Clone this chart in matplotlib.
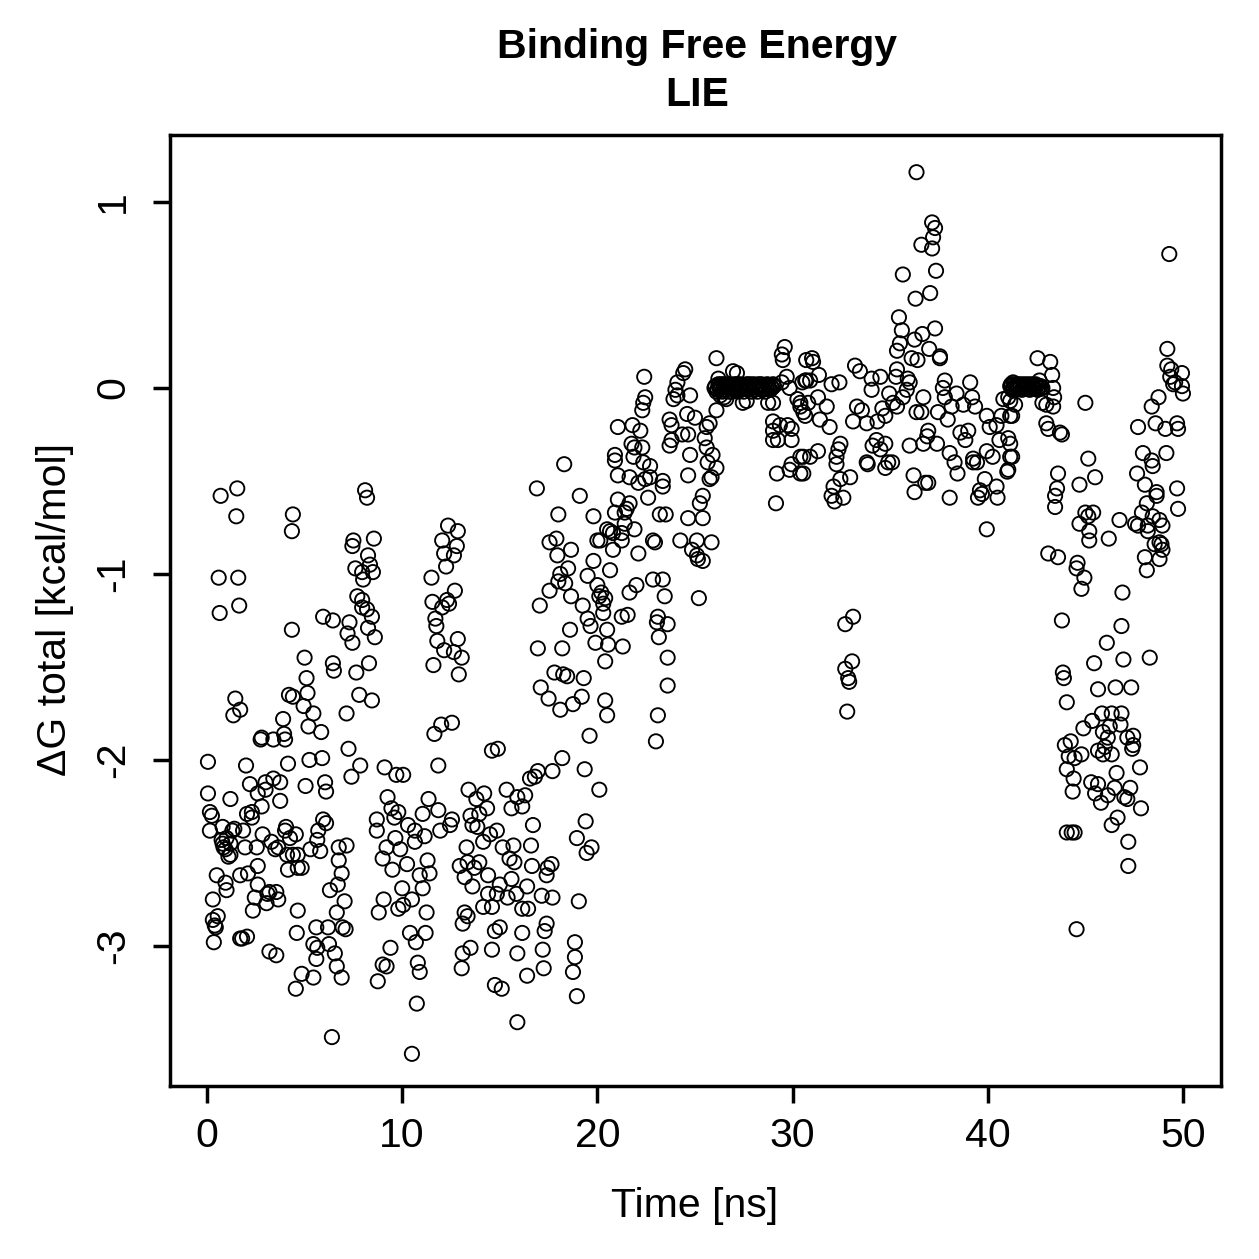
"""Binding free energy (LIE) over time, base-R style scatter."""

import matplotlib
matplotlib.use("Agg")
import matplotlib.pyplot as plt
import numpy as np

# ---------------------------------------------------------------------------
# Data: (time [ns], dG total [kcal/mol]), per segment
# ---------------------------------------------------------------------------

seg_00_05 = [
    (0.05, -2.01), (0.05, -2.18), (0.15, -2.28), (0.15, -2.38), (0.25, -2.30),
    (0.3, -2.75), (0.3, -2.86), (0.4, -2.89), (0.35, -2.98), (0.5, -2.62),
    (0.55, -2.84), (0.45, -2.90), (0.7, -0.58), (0.6, -1.02), (0.65, -1.21),
    (0.75, -2.43), (0.8, -2.36), (0.8, -2.45), (0.85, -2.47), (0.95, -2.48),
    (0.95, -2.66), (1.0, -2.70), (1.0, -2.42), (1.1, -2.52), (1.2, -2.21),
    (1.2, -2.45), (1.2, -2.51), (1.3, -2.38), (1.4, -2.37), (1.35, -1.76),
    (1.45, -1.67), (1.7, -1.73), (1.55, -0.54), (1.5, -0.69), (1.6, -1.02),
    (1.65, -1.17), (1.7, -2.62), (1.7, -2.96), (1.8, -2.96), (2.05, -2.95),
    (2.0, -2.03), (1.85, -2.38), (1.95, -2.47), (2.05, -2.29), (2.2, -2.13),
    (2.3, -2.28), (2.3, -2.31), (2.35, -2.81), (2.45, -2.74), (2.1, -2.61),
    (2.55, -2.47), (2.6, -2.18), (2.6, -2.57), (2.6, -2.67), (2.8, -2.25),
    (2.75, -1.89), (2.8, -1.88), (2.85, -2.40), (3.0, -2.12), (3.0, -2.16),
    (3.05, -2.77), (3.1, -2.72), (3.2, -2.71), (3.2, -3.03), (3.3, -2.44),
    (3.4, -1.89), (3.4, -2.10), (3.5, -2.48), (3.55, -3.05), (3.55, -2.71),
    (3.65, -2.47), (3.65, -2.75), (3.75, -2.12), (3.75, -2.22), (3.9, -1.78),
    (3.95, -1.86), (4.0, -1.89), (4.0, -2.38), (4.05, -2.36), (4.1, -2.51),
    (4.15, -2.02), (4.15, -2.59), (4.2, -1.65), (4.25, -2.42), (4.35, -0.77),
    (4.4, -0.68), (4.35, -1.30), (4.4, -1.66), (4.4, -2.51), (4.55, -2.40),
    (4.55, -3.23), (4.6, -2.93), (4.65, -2.81), (4.65, -2.51), (4.65, -2.58),
    (4.85, -3.15), (4.85, -2.58), (4.95, -1.71), (5.0, -1.45),
]

seg_05_10 = [
    (5.05, -2.14), (5.1, -1.56), (5.15, -1.64), (5.2, -1.82), (5.25, -2.0),
    (5.3, -2.48), (5.45, -1.75), (5.45, -2.99), (5.45, -3.17), (5.6, -2.90),
    (5.6, -3.07), (5.65, -3.01), (5.65, -2.43), (5.7, -2.38), (5.8, -2.49),
    (5.85, -1.85), (5.9, -1.99), (5.95, -1.23), (5.95, -2.32), (6.05, -2.12),
    (6.1, -2.17), (6.1, -2.34), (6.2, -2.90), (6.25, -2.99), (6.3, -2.70),
    (6.4, -3.49), (6.45, -1.25), (6.45, -1.48), (6.5, -1.52), (6.55, -3.04),
    (6.65, -2.82), (6.65, -3.11), (6.7, -2.67), (6.75, -2.47), (6.75, -2.54),
    (6.9, -2.61), (6.9, -3.17), (6.95, -2.90), (7.05, -2.76), (7.1, -2.91),
    (7.15, -2.46), (7.15, -1.75), (7.2, -1.32), (7.25, -1.94), (7.3, -1.26),
    (7.4, -2.09), (7.45, -1.37), (7.45, -0.85), (7.5, -0.82), (7.6, -0.97),
    (7.65, -1.53), (7.7, -1.12), (7.8, -1.65), (7.85, -2.03), (7.95, -0.99),
    (7.95, -1.14), (7.95, -1.18), (8.0, -1.03), (8.1, -0.55), (8.2, -0.59),
    (8.2, -1.19), (8.25, -0.90), (8.25, -1.29), (8.3, -1.48), (8.35, -0.95),
    (8.45, -1.23), (8.45, -1.68), (8.5, -0.99), (8.55, -0.81), (8.6, -1.34),
    (8.7, -2.32), (8.7, -2.38), (8.75, -3.19), (8.8, -2.82), (9.0, -2.53),
    (9.0, -3.10), (9.05, -2.75), (9.1, -2.04), (9.2, -2.47), (9.2, -3.11),
    (9.25, -2.20), (9.4, -3.01), (9.45, -2.26), (9.5, -2.59), (9.6, -2.31),
    (9.65, -2.42), (9.7, -2.08), (9.8, -2.28), (9.8, -2.80), (9.9, -2.48),
]

seg_10_15 = [
    (10.0, -2.69), (10.05, -2.08), (10.05, -2.78), (10.25, -2.56), (10.3, -2.35),
    (10.4, -2.93), (10.5, -2.75), (10.5, -3.58), (10.65, -2.38), (10.65, -2.44),
    (10.7, -2.98), (10.75, -3.31), (10.8, -3.09), (10.9, -2.62), (10.9, -3.14),
    (11.05, -2.29), (11.05, -2.69), (11.15, -2.41), (11.2, -2.93), (11.25, -2.82),
    (11.3, -2.54), (11.35, -2.21), (11.4, -2.61), (11.5, -1.02), (11.55, -1.15),
    (11.6, -1.49), (11.65, -1.86), (11.7, -1.24), (11.75, -1.28), (11.8, -1.36),
    (11.85, -2.03), (11.85, -2.27), (11.95, -2.38), (12.0, -1.81), (12.05, -0.82),
    (12.05, -1.18), (12.15, -0.89), (12.15, -1.41), (12.25, -0.96), (12.3, -1.14),
    (12.35, -0.74), (12.4, -1.16), (12.45, -2.35), (12.55, -1.80), (12.55, -2.32),
    (12.65, -0.90), (12.65, -1.42), (12.7, -1.09), (12.8, -0.85), (12.85, -0.77),
    (12.85, -1.35), (12.9, -1.54), (12.95, -2.57), (13.05, -1.45), (13.05, -3.12),
    (13.1, -2.88), (13.1, -3.04), (13.2, -2.63), (13.2, -2.82), (13.3, -2.47),
    (13.35, -2.55), (13.35, -2.84), (13.4, -2.16), (13.5, -2.30), (13.5, -3.01),
    (13.6, -2.35), (13.6, -2.68), (13.7, -2.58), (13.8, -2.21), (13.85, -2.36),
    (13.95, -2.29), (13.95, -2.55), (14.15, -2.44), (14.15, -2.79), (14.2, -2.18),
    (14.35, -2.26), (14.4, -2.62), (14.4, -2.72), (14.5, -2.40), (14.6, -1.95),
    (14.6, -2.79), (14.6, -3.02), (14.75, -2.92), (14.75, -3.21), (14.85, -2.38),
    (14.85, -2.72), (14.9, -1.94),
]

seg_15_20 = [
    (15.0, -2.67), (15.0, -2.90), (15.1, -3.23), (15.15, -2.47), (15.35, -2.16),
    (15.4, -2.74), (15.5, -2.53), (15.6, -2.26), (15.6, -2.64), (15.7, -2.46),
    (15.75, -2.55), (15.85, -2.72), (15.9, -2.20), (15.9, -3.04), (15.9, -3.41),
    (16.15, -2.25), (16.15, -2.80), (16.15, -2.93), (16.3, -2.19), (16.4, -2.68),
    (16.4, -3.16), (16.45, -2.80), (16.55, -2.10), (16.6, -2.46), (16.65, -2.57),
    (16.7, -2.35), (16.8, -2.09), (16.9, -0.54), (16.95, -1.40), (16.95, -2.06),
    (17.05, -1.17), (17.1, -1.61), (17.15, -2.73), (17.2, -3.02), (17.25, -3.12),
    (17.3, -2.92), (17.4, -2.62), (17.4, -2.88), (17.45, -2.58), (17.5, -1.67),
    (17.55, -0.83), (17.55, -1.09), (17.65, -2.56), (17.7, -2.06), (17.7, -2.74),
    (17.8, -1.53), (17.9, -0.81), (17.95, -0.90), (18.0, -0.68), (18.0, -1.04),
    (18.1, -1.0), (18.1, -1.73), (18.2, -1.40), (18.2, -1.99), (18.25, -1.54),
    (18.3, -0.41), (18.35, -1.05), (18.45, -1.55), (18.5, -0.97), (18.6, -1.30),
    (18.65, -0.87), (18.65, -1.12), (18.75, -1.70), (18.75, -3.14), (18.85, -2.98),
    (18.85, -3.06), (18.95, -2.42), (18.95, -3.27), (19.05, -2.76), (19.1, -0.58),
    (19.2, -1.66), (19.25, -1.17), (19.3, -1.56), (19.35, -2.05), (19.4, -2.33),
    (19.45, -2.50), (19.5, -1.01), (19.5, -1.24), (19.6, -1.87), (19.65, -1.28),
    (19.7, -2.47), (19.8, -0.69), (19.8, -0.93), (19.9, -1.37), (20.0, -0.82),
    (20.0, -1.06), (20.1, -1.12), (20.1, -2.16),
]

seg_20_25 = [
    (20.15, -0.82), (20.2, -1.10), (20.3, -1.16), (20.3, -1.21), (20.4, -1.13),
    (20.4, -1.47), (20.4, -1.68), (20.5, -0.76), (20.5, -1.30), (20.5, -1.76),
    (20.55, -1.38), (20.65, -0.77), (20.65, -0.98), (20.8, -0.78), (20.8, -0.87),
    (20.9, -0.36), (20.9, -0.39), (20.9, -0.67), (21.05, -0.21), (21.05, -0.47),
    (21.05, -0.60), (21.25, -0.78), (21.25, -0.82), (21.25, -1.23), (21.3, -1.39),
    (21.4, -0.67), (21.4, -0.73), (21.5, -0.65), (21.55, -1.22), (21.65, -0.48),
    (21.65, -0.62), (21.65, -1.10), (21.75, -0.30), (21.8, -0.20), (21.85, -0.37),
    (21.9, -0.32), (21.9, -0.76), (22.0, -1.06), (22.1, -0.51), (22.1, -0.89),
    (22.2, -0.23), (22.3, -0.12), (22.3, -0.32), (22.35, -0.08), (22.35, -0.40),
    (22.4, 0.06), (22.45, -0.05), (22.45, -0.49), (22.6, -0.59), (22.7, -0.42),
    (22.7, -0.48), (22.85, -0.82), (22.85, -1.03), (22.95, -0.83), (23.0, -1.90),
    (23.05, -1.26), (23.1, -1.23), (23.1, -1.76), (23.15, -1.34), (23.2, -0.68),
    (23.35, -0.50), (23.35, -0.53), (23.35, -1.03), (23.45, -1.12), (23.5, -0.68),
    (23.6, -1.27), (23.6, -1.45), (23.6, -1.60), (23.7, -0.17), (23.7, -0.31),
    (23.8, -0.20), (23.8, -0.28), (23.9, -0.06), (24.0, -0.01), (24.1, 0.03),
    (24.1, -0.04), (24.25, -0.82), (24.35, -0.25), (24.4, 0.08), (24.5, 0.10),
    (24.6, -0.14), (24.65, -0.25), (24.65, -0.47), (24.65, -0.70), (24.75, -0.04),
    (24.75, -0.36), (24.85, -0.87), (25.0, -0.16),
]

seg_25_30 = [
    (25.1, -0.82), (25.1, -0.90), (25.15, -0.92), (25.2, -1.13), (25.25, -0.62),
    (25.4, -0.58), (25.4, -0.70), (25.4, -0.93), (25.5, -0.27), (25.6, -0.21),
    (25.6, -0.32), (25.65, -0.40), (25.75, -0.19), (25.75, -0.49), (25.85, -0.48),
    (25.85, -0.83), (25.9, -0.36), (26.1, 0.16), (26.1, -0.12), (26.1, -0.43),
    (26.2, 0.05), (26.3, -0.04), (26.5, -0.05), (26.6, -0.06), (26.95, 0.09),
    (27.15, 0.08), (27.45, -0.08), (27.65, -0.07), (28.75, -0.08), (29.0, -0.08),
    (29.0, -0.18), (29.0, -0.23), (29.0, -0.28), (29.15, -0.62), (29.2, -0.46),
    (29.25, -0.28), (29.35, -0.20), (29.45, 0.18), (29.45, 0.03), (29.5, 0.15),
    (29.6, 0.22), (29.7, 0.06), (29.75, -0.20), (29.85, 0.0), (29.85, -0.44),
    (29.95, -0.22), (29.95, -0.28), (29.95, -0.41),
]

# near-constant stretch that prints as a solid bar at dG ~ 0
plateau_26_29 = [
    (26.0, 0.0), (26.05, 0.01), (26.1, -0.02), (26.15, -0.01), (26.2, 0.02),
    (26.25, 0.0), (26.3, 0.01), (26.35, 0.02), (26.4, -0.02), (26.45, -0.01),
    (26.5, 0.02), (26.55, 0.01), (26.6, -0.01), (26.65, 0.0), (26.7, 0.02),
    (26.75, -0.02), (26.8, 0.0), (26.85, 0.01), (26.9, -0.02), (26.95, 0.0),
    (27.0, 0.02), (27.05, -0.01), (27.1, 0.01), (27.15, 0.02), (27.2, -0.02),
    (27.25, 0.0), (27.3, 0.02), (27.35, -0.01), (27.4, 0.0), (27.45, 0.01),
    (27.5, -0.02), (27.55, 0.0), (27.6, 0.01), (27.65, 0.02), (27.7, 0.0),
    (27.75, -0.01), (27.8, 0.02), (27.85, 0.0), (27.9, -0.02), (27.95, 0.01),
    (28.0, 0.02), (28.05, -0.01), (28.1, 0.01), (28.15, 0.0), (28.2, -0.02),
    (28.25, 0.02), (28.3, 0.01), (28.35, 0.0), (28.4, 0.02), (28.45, -0.01),
    (28.5, 0.0), (28.55, 0.01), (28.6, -0.02), (28.65, 0.0), (28.7, 0.02),
    (28.75, 0.01), (28.8, 0.0), (28.85, -0.01), (28.9, 0.01), (28.95, 0.0),
    (29.0, 0.02), (29.05, 0.01),
]

seg_30_35 = [
    (30.25, -0.06), (30.4, -0.10), (30.4, -0.37), (30.4, -0.46), (30.4, -0.08),
    (30.5, 0.03), (30.55, -0.13), (30.55, -0.37), (30.55, -0.46), (30.65, 0.04),
    (30.65, -0.15), (30.7, 0.15), (30.7, 0.04), (30.8, -0.08), (30.9, 0.04),
    (30.9, -0.37), (31.0, 0.16), (31.05, 0.14), (31.3, -0.05), (31.3, -0.34),
    (31.35, 0.07), (31.4, -0.17), (31.75, -0.10), (31.9, -0.21), (32.0, 0.02),
    (32.0, -0.58), (32.1, -0.53), (32.15, -0.61), (32.25, -0.37), (32.25, -0.41),
    (32.35, -0.33), (32.4, 0.03), (32.45, -0.30), (32.45, -0.49), (32.6, -0.59),
    (32.7, -1.27), (32.7, -1.51), (32.8, -1.74), (32.85, -1.56), (32.9, -1.58),
    (32.95, -0.48), (33.05, -1.47), (33.1, -1.23), (33.1, -0.18), (33.2, 0.12),
    (33.3, -0.10), (33.45, 0.09), (33.55, -0.12), (33.8, -0.19), (33.8, -0.40),
    (33.85, -0.41), (34.05, 0.05), (34.05, -0.01), (34.1, -0.31), (34.3, -0.28),
    (34.35, -0.18), (34.5, 0.06), (34.5, -0.33), (34.6, -0.11), (34.75, -0.15),
    (34.75, -0.30), (34.75, -0.43), (34.9, -0.40), (34.95, -0.03), (35.1, -0.40),
]

seg_35_40 = [
    (35.15, -0.08), (35.3, 0.06), (35.35, 0.10), (35.35, 0.20), (35.35, -0.10),
    (35.45, 0.38), (35.5, 0.24), (35.6, 0.31), (35.65, 0.61), (35.65, -0.05),
    (35.85, -0.01), (35.9, 0.05), (36.0, 0.03), (36.0, -0.31), (36.1, 0.16),
    (36.2, -0.47), (36.25, 0.26), (36.25, -0.56), (36.3, 0.48), (36.35, 1.16),
    (36.35, -0.13), (36.4, 0.15), (36.6, 0.77), (36.6, -0.13), (36.65, 0.29),
    (36.7, -0.05), (36.7, -0.30), (36.8, -0.51), (36.9, -0.26), (36.95, -0.23),
    (36.95, -0.51), (37.0, 0.21), (37.05, 0.51), (37.15, 0.89), (37.15, 0.75),
    (37.2, 0.81), (37.3, 0.86), (37.3, 0.32), (37.35, 0.63), (37.4, -0.30),
    (37.45, -0.13), (37.55, 0.17), (37.55, 0.16), (37.7, 0.0), (37.8, 0.04),
    (37.8, -0.05), (37.95, -0.17), (38.05, -0.35), (38.05, -0.59), (38.15, -0.10),
    (38.3, -0.40), (38.4, -0.03), (38.45, -0.46), (38.6, -0.24), (38.75, -0.09),
    (38.85, -0.28), (39.0, -0.23), (39.1, 0.03), (39.2, -0.05), (39.25, -0.38),
    (39.25, -0.40), (39.35, -0.10), (39.45, -0.40), (39.5, -0.59), (39.6, -0.55),
    (39.7, -0.57), (39.85, -0.49), (39.95, -0.15), (39.95, -0.34), (39.95, -0.76),
]

seg_40_45 = [
    (40.1, -0.21), (40.25, -0.37), (40.45, -0.20), (40.45, -0.53), (40.5, -0.59),
    (40.6, -0.28), (40.7, -0.15), (40.8, -0.06), (41.0, -0.45), (41.05, -0.05),
    (41.05, -0.27), (41.05, -0.44), (41.15, -0.15), (41.15, -0.37), (41.15, -0.30),
    (41.15, -0.07), (41.25, -0.15), (41.25, -0.37), (41.3, 0.03), (41.4, -0.09),
    (42.55, 0.16), (42.65, 0.04), (42.8, -0.08), (43.0, -0.09), (43.0, -0.19),
    (43.1, -0.22), (43.1, -0.89), (43.2, 0.14), (43.3, 0.07), (43.35, 0.0),
    (43.35, -0.10), (43.4, -0.05), (43.45, -0.58), (43.45, -0.64), (43.55, -0.54),
    (43.6, -0.46), (43.6, -0.91), (43.7, -0.24), (43.8, -0.25), (43.8, -1.25),
    (43.85, -1.53), (43.9, -1.56), (43.95, -1.92), (44.05, -1.69), (44.05, -2.05),
    (44.05, -2.39), (44.15, -1.98), (44.25, -1.90), (44.3, -2.39), (44.35, -2.17),
    (44.4, -2.10), (44.45, -1.99), (44.45, -2.39), (44.55, -0.97), (44.55, -2.91),
    (44.6, -0.94), (44.7, -0.52), (44.7, -0.73), (44.8, -1.08), (44.8, -1.97),
    (44.9, -1.83), (44.95, -1.02),
]

# second flat stretch near dG ~ 0
plateau_41_43 = [
    (41.15, 0.01), (41.2, 0.02), (41.25, -0.01), (41.3, 0.0), (41.35, 0.02),
    (41.4, 0.01), (41.45, -0.01), (41.5, 0.02), (41.55, 0.01), (41.6, 0.0),
    (41.65, 0.02), (41.7, 0.01), (41.75, -0.01), (41.8, 0.0), (41.85, 0.02),
    (41.9, 0.01), (41.95, 0.0), (42.0, 0.0), (42.05, 0.02), (42.1, 0.01),
    (42.15, -0.01), (42.2, 0.0), (42.25, 0.02), (42.3, 0.01), (42.35, 0.0),
    (42.4, 0.0), (42.45, 0.02), (42.5, 0.01), (42.55, -0.01), (42.6, 0.0),
    (42.65, 0.01), (42.7, 0.01), (42.75, 0.0), (42.8, 0.0),
]

seg_45_50 = [
    (45.0, -0.08), (45.0, -0.67), (45.15, -0.38), (45.15, -0.69), (45.2, -0.77),
    (45.2, -0.82), (45.3, -2.12), (45.35, -1.79), (45.4, -0.67), (45.45, -1.48),
    (45.5, -0.48), (45.5, -2.18), (45.65, -1.62), (45.65, -1.95), (45.65, -2.13),
    (45.8, -2.23), (45.85, -1.75), (45.9, -1.85), (45.9, -1.97), (46.0, -1.93),
    (46.1, -1.37), (46.15, -1.88), (46.15, -2.19), (46.2, -0.81), (46.25, -1.82),
    (46.35, -1.75), (46.35, -1.97), (46.35, -2.35), (46.5, -2.15), (46.55, -1.61),
    (46.6, -2.07), (46.65, -2.31), (46.75, -0.71), (46.8, -1.81), (46.85, -1.28),
    (46.85, -1.75), (46.9, -1.10), (46.95, -1.46), (47.0, -2.20), (47.15, -1.88),
    (47.15, -2.21), (47.2, -2.44), (47.2, -2.57), (47.3, -2.15), (47.35, -1.61),
    (47.4, -1.94), (47.45, -1.87), (47.45, -1.92), (47.55, -0.73), (47.65, -0.46),
    (47.7, -0.21), (47.7, -0.74), (47.8, -2.04), (47.85, -2.26), (47.9, -0.67),
    (47.95, -0.35), (48.05, -0.52), (48.05, -0.91), (48.15, -0.62), (48.15, -0.98),
    (48.2, -0.74), (48.2, -0.77), (48.3, -1.45), (48.4, -0.10), (48.4, -0.39),
    (48.45, -0.42), (48.45, -0.69), (48.55, -0.84), (48.6, -0.19), (48.65, -0.56),
    (48.65, -0.58), (48.75, -0.05), (48.8, -0.71), (48.8, -0.83), (48.8, -0.92),
    (48.9, -0.84), (48.95, -0.74), (48.95, -0.87), (49.1, -0.22), (49.15, -0.35),
    (49.2, 0.21), (49.2, 0.12), (49.3, 0.72), (49.35, 0.06), (49.4, 0.10),
    (49.5, 0.02), (49.6, 0.03), (49.7, -0.19), (49.7, -0.54), (49.75, -0.22),
    (49.75, -0.65), (49.95, 0.08), (49.95, 0.01), (50.0, -0.03),
]

X_TICKS = [0, 10, 20, 30, 40, 50]
Y_TICKS = [-3, -2, -1, 0, 1]

# ---------------------------------------------------------------------------
# Plot
# ---------------------------------------------------------------------------

plt.rcParams["font.family"] = ["Liberation Sans", "DejaVu Sans"]
FS = 29.5

segments = [seg_00_05, seg_05_10, seg_10_15, seg_15_20, seg_20_25, seg_25_30,
            plateau_26_29, seg_30_35, seg_35_40, seg_40_45, plateau_41_43,
            seg_45_50]
pts = np.array([p for seg in segments for p in seg])
time_ns, dg_total = pts[:, 0], pts[:, 1]

fig = plt.figure(figsize=(12.59, 12.59), dpi=100)
ax = fig.add_axes([170 / 1259, 1 - 1086 / 1259, 1051 / 1259, 951 / 1259])

# open circles, like R's default pch = 1
ax.scatter(time_ns, dg_total, s=105, facecolors="none", edgecolors="black",
           linewidths=1.35)

ax.set_xlim(-1.895, 51.95)
ax.set_ylim(-3.753, 1.360)
ax.set_xticks(X_TICKS)
ax.set_yticks(Y_TICKS)
ax.set_yticklabels([str(v) for v in Y_TICKS], rotation=90, va="center")

for sp in ax.spines.values():
    sp.set_linewidth(2.5)
ax.tick_params(axis="both", direction="out", length=12.2, width=2.5,
               labelsize=FS)
ax.tick_params(axis="x", pad=10)
ax.tick_params(axis="y", pad=15)

fig.text(697 / 1259, 1 - 58 / 1259, "Binding Free Energy", ha="center",
         va="baseline", fontsize=FS, fontweight="bold")
fig.text(697 / 1259, 1 - 106 / 1259, "LIE", ha="center", va="baseline",
         fontsize=FS, fontweight="bold")
fig.text(695 / 1259, 1 - 1217 / 1259, "Time [ns]", ha="center",
         va="baseline", fontsize=FS)
fig.text(55 / 1259, 1 - 610 / 1259, "ΔG total [kcal/mol]", ha="center",
         va="center", rotation=90, fontsize=FS)

fig.savefig("out.png", dpi=100)
